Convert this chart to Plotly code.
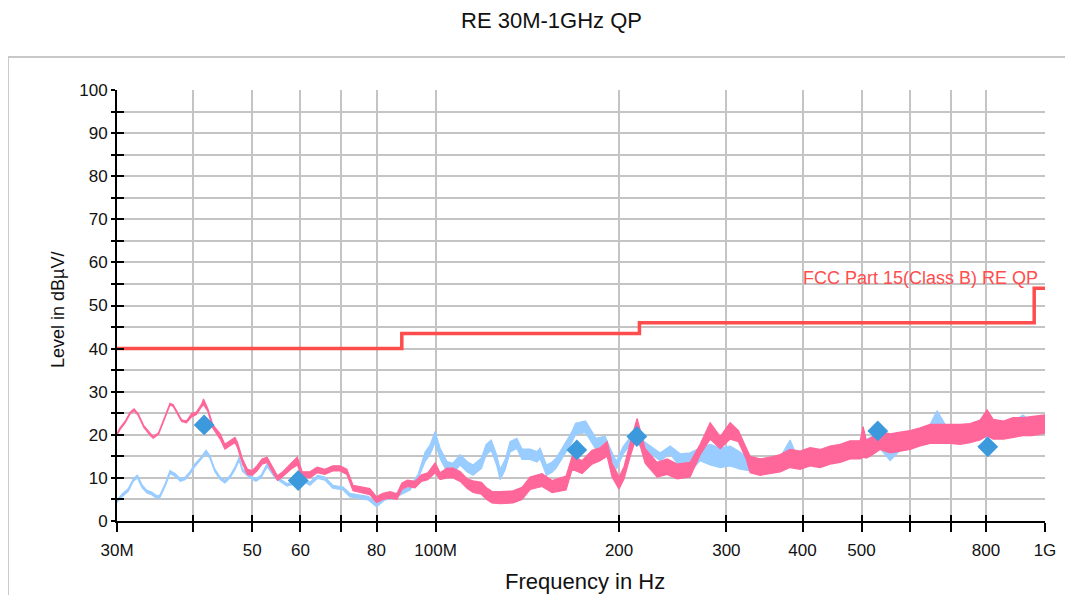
import math
import plotly.graph_objects as go

# ---------------- data (frequency in MHz, level in dBµV/m) ----------------
pink_f = [30.0, 30.34, 30.92, 31.51, 32.0, 32.5, 33.2, 34.0, 34.4, 35.1,
          35.7, 36.65, 37.1, 37.6, 38.3, 39.0, 39.8, 40.5, 41.3, 41.6,
          42.3, 43.1, 44.3, 45.1, 46.0, 46.85, 47.3, 48.2, 49.1, 50.0,
          50.9, 51.9, 52.9, 53.9, 55.0, 56.0, 57.1, 58.1, 59.3, 60.4,
          62.2, 63.9, 65.8, 67.8, 69.7, 71.5, 73.2, 75.7, 78.0, 80.0,
          81.9, 84.2, 86.4, 88.0, 89.9, 92.5, 94.8, 97.1, 99.8, 101.7,
          104.4, 106.8, 109.7, 112.6, 115.2, 118.9, 121.0, 123.7, 127.6, 134.0,
          138.6, 142.9, 149.5, 155.3, 163.7, 167.5, 173.9, 180.6, 186.2, 191.2,
          194.8, 200.0, 203.8, 208.6, 214.1, 220.7, 230.9, 239.8, 249.1, 261.6,
          271.7, 282.2, 293.1, 304.3, 314.0, 323.3, 328.2, 340.8, 354.0, 367.6,
          381.7, 396.4, 411.7, 427.5, 444.0, 461.1, 478.8, 497.3, 502.9, 509.0,
          516.4, 536.3, 557.0, 578.4, 600.7, 623.8, 647.8, 672.8, 698.7, 725.6,
          753.5, 782.5, 803.5, 822.0, 855.0, 886.0, 920.0, 952.0, 1000.0]
pink_lo = [19.9, 21.2, 22.7, 24.8, 25.6, 24.5, 21.7, 19.9, 19.2, 20.1,
           22.8, 26.9, 26.6, 25.2, 23.1, 22.8, 24.2, 24.7, 26.5, 27.0,
           25.4, 21.5, 19.0, 16.7, 17.4, 18.2, 17.0, 13.3, 10.8, 10.6,
           11.6, 13.2, 13.6, 11.7, 9.4, 10.2, 11.2, 12.2, 13.0, 10.2,
           10.0, 11.2, 10.8, 11.6, 11.6, 10.8, 7.0, 6.5, 6.1, 4.3,
           5.0, 5.3, 5.0, 7.3, 8.0, 7.7, 9.2, 9.6, 11.2, 9.6,
           10.0, 10.0, 9.2, 7.6, 6.6, 6.2, 5.1, 4.2, 4.0, 4.2,
           5.0, 7.3, 8.0, 6.6, 7.2, 12.0, 11.0, 13.2, 14.0, 15.0,
           10.2, 7.4, 9.8, 15.0, 20.0, 13.4, 10.2, 10.8, 9.8, 10.2,
           15.4, 19.0, 16.8, 19.0, 18.4, 14.4, 11.2, 10.6, 11.0, 11.4,
           12.4, 12.0, 12.8, 12.4, 13.2, 13.6, 14.4, 14.4, 14.8, 14.6,
           15.0, 16.6, 15.8, 16.2, 16.6, 17.4, 18.0, 18.0, 18.0, 17.8,
           18.2, 18.8, 19.8, 19.0, 19.0, 19.4, 19.8, 19.8, 20.4]
pink_hi = [20.3, 21.6, 23.1, 25.2, 26.0, 24.9, 22.1, 20.3, 19.6, 20.5,
           23.2, 27.3, 27.0, 25.6, 23.5, 23.2, 25.0, 25.3, 27.1, 28.3,
           26.0, 22.3, 20.2, 17.8, 18.6, 19.4, 18.2, 14.4, 12.0, 11.7,
           12.8, 14.4, 14.8, 12.8, 10.5, 11.3, 12.4, 13.6, 14.8, 11.4,
           11.4, 12.5, 12.0, 12.8, 12.8, 12.0, 8.3, 7.8, 7.5, 5.6,
           6.4, 6.8, 6.3, 8.8, 9.5, 9.2, 10.7, 11.2, 13.5, 11.2,
           12.3, 12.3, 11.5, 9.8, 9.3, 9.0, 7.8, 6.9, 6.8, 7.0,
           7.8, 10.2, 11.0, 9.4, 10.4, 15.0, 14.0, 16.4, 17.0, 18.4,
           13.4, 10.2, 12.6, 18.2, 23.8, 16.8, 13.6, 14.4, 13.2, 13.6,
           17.8, 22.8, 19.6, 22.8, 21.0, 17.0, 15.0, 14.4, 14.8, 15.4,
           16.6, 16.2, 17.0, 16.6, 17.4, 17.8, 18.6, 18.6, 21.9, 18.8,
           19.2, 20.8, 20.2, 20.6, 21.0, 21.6, 22.4, 22.4, 22.4, 22.4,
           22.6, 23.4, 25.8, 23.6, 23.2, 24.0, 24.0, 24.2, 24.6]

blue_f = [30.0, 30.6, 31.3, 31.9, 32.4, 33.0, 33.6, 34.2, 34.9, 35.3,
          36.0, 36.65, 37.35, 38.1, 38.8, 39.5, 40.3, 41.05, 42.0, 42.6,
          43.4, 44.3, 45.1, 46.0, 46.85, 47.6, 48.2, 49.6, 50.7, 51.7,
          52.9, 54.5, 55.5, 57.0, 58.1, 59.9, 62.2, 64.0, 65.8, 67.8,
          70.5, 72.35, 75.1, 77.5, 80.0, 82.6, 85.1, 88.0, 90.8, 93.6,
          96.1, 97.9, 99.8, 101.7, 104.4, 106.8, 109.7, 112.6, 115.2, 118.9,
          121.0, 123.4, 125.9, 127.6, 130.0, 132.5, 135.9, 138.6, 142.9, 146.7,
          148.4, 152.0, 155.3, 157.6, 160.1, 163.7, 167.5, 169.7, 176.2, 183.3,
          189.7, 193.4, 198.0, 203.1, 210.9, 214.1, 222.4, 233.6, 242.6, 251.9,
          261.6, 271.7, 282.2, 293.1, 304.3, 316.0, 328.2, 340.8, 354.0, 367.6,
          381.7, 389.0, 396.4, 411.7, 427.5, 444.0, 461.1, 478.8, 497.3, 516.4,
          536.3, 557.0, 578.4, 600.7, 623.8, 647.8, 665.0, 686.0, 698.7, 725.6,
          753.5, 782.5, 812.7, 843.9, 876.4, 920.0, 952.0, 1000.0]
blue_lo = [4.3, 5.7, 6.9, 9.2, 10.0, 7.7, 6.5, 6.1, 5.2, 5.5,
           8.1, 11.0, 10.4, 9.2, 9.6, 10.8, 12.7, 13.9, 15.7, 14.6,
           11.5, 9.6, 8.8, 10.0, 11.9, 14.1, 11.5, 10.0, 9.2, 10.0,
           12.6, 10.0, 9.2, 8.1, 8.4, 9.5, 8.3, 9.9, 9.5, 7.6,
           7.2, 5.6, 5.2, 4.9, 3.3, 4.9, 5.2, 6.3, 7.2, 9.8,
           13.8, 15.4, 18.2, 14.5, 11.4, 11.0, 13.0, 11.4, 10.6, 12.2,
           15.3, 16.4, 13.0, 9.6, 11.8, 16.0, 16.8, 14.3, 14.3, 13.7,
           14.5, 10.6, 11.3, 12.2, 13.7, 16.0, 18.4, 20.1, 20.5, 16.6,
           17.9, 15.0, 12.0, 15.5, 18.6, 17.8, 16.2, 14.0, 15.6, 12.4,
           11.4, 14.0, 13.0, 12.4, 12.8, 12.0, 11.6, 11.2, 11.6, 12.2,
           13.2, 13.0, 12.4, 13.0, 13.0, 13.8, 14.2, 14.8, 15.0, 15.2,
           16.8, 14.0, 16.4, 17.0, 17.8, 18.4, 19.0, 18.8, 18.6, 18.4,
           18.6, 19.2, 19.8, 19.6, 20.0, 20.2, 20.2, 20.8]
blue_hi = [4.8, 6.3, 7.5, 9.8, 10.6, 8.3, 7.1, 6.7, 5.8, 6.1,
           8.7, 11.7, 11.0, 9.8, 10.2, 11.4, 13.3, 14.5, 16.4, 15.2,
           12.1, 10.2, 9.4, 10.6, 12.5, 14.8, 12.1, 10.6, 9.8, 10.6,
           13.3, 10.6, 9.8, 8.7, 9.0, 10.2, 9.0, 10.6, 10.2, 8.3,
           7.9, 6.4, 6.0, 5.7, 4.2, 5.7, 6.0, 7.2, 8.0, 10.8,
           16.0, 17.6, 20.8, 16.9, 13.8, 13.4, 15.4, 13.8, 13.0, 14.6,
           17.7, 18.8, 15.4, 12.0, 14.2, 18.4, 19.2, 16.7, 16.7, 16.1,
           16.9, 13.0, 13.7, 14.6, 16.1, 18.4, 20.8, 22.7, 23.2, 19.2,
           19.7, 16.8, 13.8, 17.3, 20.4, 19.6, 18.0, 15.8, 17.4, 15.6,
           15.8, 17.0, 17.8, 17.0, 17.4, 16.0, 14.0, 13.6, 14.4, 14.8,
           18.8, 16.0, 15.4, 16.6, 15.8, 16.6, 17.0, 18.2, 18.0, 19.4,
           20.0, 19.2, 19.6, 20.0, 20.6, 22.4, 25.6, 22.4, 21.6, 21.6,
           21.8, 22.4, 23.0, 22.4, 22.6, 24.6, 23.0, 23.6]

limit_f = [30, 88, 88, 216, 216, 960, 960, 1000]
limit_db = [40, 40, 43.5, 43.5, 46, 46, 54, 54]

mark_f = [41.7, 59.5, 170.5, 213.9, 531.6, 805.5]
mark_db = [22.3, 9.4, 16.5, 19.6, 20.9, 17.2]

x_ticks = [30, 40, 50, 60, 70, 80, 100, 200, 300, 400, 500, 600, 700, 800, 1000]
x_labels = ["30M", "", "50", "60", "", "80", "100M", "200", "300", "400", "500", "", "", "800", "1G"]
y_ticks = [0, 5, 10, 15, 20, 25, 30, 35, 40, 45, 50, 55, 60, 65, 70, 75, 80, 85, 90, 95, 100]
y_labels = ["0", "", "10", "", "20", "", "30", "", "40", "", "50", "", "60", "", "70", "", "80", "", "90", "", "100"]

title_text = "RE 30M-1GHz QP"
x_title = "Frequency in Hz"
y_title = "Level in dBµV/"
limit_name = "FCC Part 15(Class B) RE QP"

# ---------------- styling ----------------
PINK = "#FF6699"
BLUE = "#99CCFF"
MARK = "#3C9ADC"
RED = "#FF4D4D"
GRID = "#c4c4c4"
FONT = "Liberation Sans, Arial, sans-serif"

assert len(pink_f) == len(pink_lo) == len(pink_hi)
assert len(blue_f) == len(blue_lo) == len(blue_hi)


def band(f, lo, hi):
    return list(f) + list(f)[::-1], list(hi) + list(lo)[::-1]


fig = go.Figure()

bx, by = band(blue_f, blue_lo, blue_hi)
fig.add_trace(go.Scatter(x=bx, y=by, mode="lines", fill="toself", fillcolor=BLUE,
                         line=dict(color=BLUE, width=1.2), hoverinfo="skip", showlegend=False))
px_, py_ = band(pink_f, pink_lo, pink_hi)
fig.add_trace(go.Scatter(x=px_, y=py_, mode="lines", fill="toself", fillcolor=PINK,
                         line=dict(color=PINK, width=1.2), hoverinfo="skip", showlegend=False))
fig.add_trace(go.Scatter(x=limit_f, y=limit_db, mode="lines",
                         line=dict(color=RED, width=3.5), showlegend=False))
fig.add_trace(go.Scatter(x=mark_f, y=mark_db, mode="markers",
                         marker=dict(symbol="diamond", size=16, color=MARK, line=dict(width=0)),
                         showlegend=False))
# helper (empty) trace so the overlay axes carrying the inner tick halves get drawn
fig.add_trace(go.Scatter(x=[], y=[], xaxis="x2", yaxis="y2", showlegend=False))

xr = [math.log10(30), math.log10(1000)]

# the page body has an 8 px margin, so the figure is drawn 8 px smaller
fig.update_layout(
    width=1065, height=587,
    margin=dict(l=109, r=28, t=82, b=74),
    paper_bgcolor="white", plot_bgcolor="white",
    font=dict(family=FONT, color="#111111", size=17),
    showlegend=False,
    xaxis=dict(type="log", range=xr, tickvals=x_ticks, ticktext=x_labels,
               ticks="outside", ticklen=9, tickwidth=1.5, tickcolor="black",
               showline=True, linecolor="black", linewidth=2,
               showgrid=True, gridcolor=GRID, gridwidth=2, zeroline=False,
               tickfont=dict(size=17), ticklabelstandoff=4),
    xaxis2=dict(type="log", range=xr, overlaying="x", anchor="y2", side="bottom",
                tickvals=x_ticks, ticks="inside", ticklen=6, tickwidth=1.5, tickcolor="black",
                showticklabels=False, showgrid=False, zeroline=False, showline=False),
    yaxis=dict(range=[0, 100], tickvals=y_ticks, ticktext=y_labels,
               ticks="outside", ticklen=4, tickwidth=2, tickcolor="black",
               showline=True, linecolor="black", linewidth=2,
               showgrid=True, gridcolor=GRID, gridwidth=2, zeroline=False,
               tickfont=dict(size=17)),
    yaxis2=dict(range=[0, 100], overlaying="y", anchor="x2", side="left",
                tickvals=y_ticks, ticks="inside", ticklen=7, tickwidth=2, tickcolor="black",
                showticklabels=False, showgrid=False, zeroline=False, showline=False),
    shapes=[
        dict(type="line", xref="paper", yref="paper", x0=-0.1175, x1=1.06, y0=1.0766, y1=1.0766,
             line=dict(color="#c8c8c8", width=2)),
        dict(type="line", xref="paper", yref="paper", x0=-0.1175, x1=-0.1175, y0=1.0766, y1=-0.2,
             line=dict(color="#c8c8c8", width=2)),
    ],
    annotations=[
        dict(text=title_text, xref="paper", yref="paper", x=0.4677, y=1.1624,
             xanchor="center", yanchor="middle", showarrow=False,
             font=dict(size=22, color="#111111")),
        dict(text=x_title, xref="paper", yref="paper", x=0.5043, y=-0.1415,
             xanchor="center", yanchor="middle", showarrow=False,
             font=dict(size=22, color="#111111")),
        dict(text=y_title, xref="paper", yref="paper", x=-0.0636, y=0.4896,
             xanchor="center", yanchor="middle", showarrow=False, textangle=-90,
             font=dict(size=18, color="#111111")),
        dict(text=limit_name, xref="paper", yref="paper", x=0.9946, y=0.5638,
             xanchor="right", yanchor="middle", showarrow=False,
             font=dict(size=18, color=RED)),
    ],
)

fig.write_html("out.html")
